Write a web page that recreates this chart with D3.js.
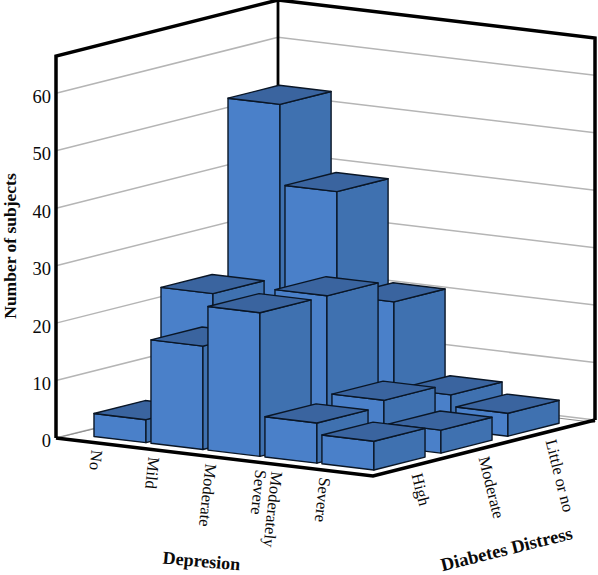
<!DOCTYPE html>
<html>
<head>
<meta charset="utf-8">
<script src="https://cdn.jsdelivr.net/npm/d3@7"></script>
<style>
  html, body { margin: 0; background: #fff; }
  text { font-family: "Liberation Serif", serif; fill: #0a0a0a; }
</style>
</head>
<body>
<div id="chart"></div>
<script>
const depression = ['No', 'Mild', 'Moderate', 'Moderately Severe', 'Severe'];
const distress = ['High', 'Moderate', 'Little or no'];
const yTicks = [0, 10, 20, 30, 40, 50, 60];

// number of subjects per depression level, one list per distress level
const highCounts = [4, 18, 25, 7, 5];
const moderateCounts = [23, 15, 25, 8, 4];
const littleCounts = [53, 39, 21, 6, 4];
const countsByDistress = [highCounts, moderateCounts, littleCounts];

const width = 598;
const height = 575;

// the floor is a parallelogram, verticals keep one scale (orthographic view)
const origin = [56, 438];
const xVec = [317, 38];
const zVec = [222, -56];

const xScale = d3.scaleBand().domain(depression).range([0.068, 0.951]).paddingInner(0.088);
const zScale = d3.scaleBand().domain(distress).range([0.074, 0.908]).paddingInner(0.237);
const yScale = d3.scaleLinear().domain([0, 66.5]).range([438, 56]);

function project(a, b, value) {
  return [
    origin[0] + a * xVec[0] + b * zVec[0],
    origin[1] + a * xVec[1] + b * zVec[1] - (yScale(0) - yScale(value))
  ];
}

const svg = d3.select('#chart').append('svg')
  .attr('width', width)
  .attr('height', height)
  .style('display', 'block');

const path = pts => 'M' + pts.map(p => p.join(',')).join('L') + 'Z';
const line = pts => 'M' + pts.map(p => p.join(',')).join('L');

// gridlines on the two back walls
svg.append('g').selectAll('path')
  .data(yTicks)
  .join('path')
  .attr('d', v => line([project(0, 0, v), project(0, 1, v), project(1, 1, v)]))
  .attr('fill', 'none')
  .attr('stroke', '#b5b5b5')
  .attr('stroke-width', 1.5);

// second floor edge just below the wall foot
svg.append('path')
  .attr('d', line([project(0, 0, 0), project(0, 1, 0).map((c, i) => c + (i ? 2.5 : 0)), project(1, 1, 0).map((c, i) => c + (i ? 2.5 : 0))]))
  .attr('fill', 'none')
  .attr('stroke', '#8c8c8c')
  .attr('stroke-width', 1);

// wall frame
svg.append('path')
  .attr('d', line([project(0, 0, 0), project(0, 0, 66.5), project(0, 1, 66.5), project(1, 1, 66.5), project(1, 1, 0)]))
  .attr('fill', 'none')
  .attr('stroke', '#000')
  .attr('stroke-width', 3.5)
  .attr('stroke-linejoin', 'miter');

svg.append('path')
  .attr('d', line([project(0, 1, 66.5), project(0, 1, 40)]))
  .attr('stroke', '#000')
  .attr('stroke-width', 2.8);

// front floor edge
svg.append('path')
  .attr('d', line([project(0, 0, 0), project(1, 0, 0), project(1, 1, 0)]))
  .attr('fill', 'none')
  .attr('stroke', '#000')
  .attr('stroke-width', 3.6);

// bars, far row first so nearer ones paint over
const barData = [];
distress.slice().reverse().forEach(dis => {
  const row = countsByDistress[distress.indexOf(dis)];
  depression.forEach((dep, i) => barData.push({ dep, dis, value: row[i] }));
});

const bars = svg.append('g').selectAll('g')
  .data(barData)
  .join('g')
  .attr('stroke', '#0a1626')
  .attr('stroke-width', 1.4)
  .attr('stroke-linejoin', 'round');

const x0 = d => xScale(d.dep);
const x1 = d => xScale(d.dep) + xScale.bandwidth();
const z0 = d => zScale(d.dis);
const z1 = d => zScale(d.dis) + zScale.bandwidth();

bars.append('path')
  .attr('fill', '#4a80c9')
  .attr('d', d => path([project(x0(d), z0(d), 0), project(x1(d), z0(d), 0), project(x1(d), z0(d), d.value), project(x0(d), z0(d), d.value)]));

bars.append('path')
  .attr('fill', '#3f71b0')
  .attr('d', d => path([project(x1(d), z0(d), 0), project(x1(d), z1(d), 0), project(x1(d), z1(d), d.value), project(x1(d), z0(d), d.value)]));

bars.append('path')
  .attr('fill', '#3a649f')
  .attr('d', d => path([project(x0(d), z0(d), d.value), project(x1(d), z0(d), d.value), project(x1(d), z1(d), d.value), project(x0(d), z1(d), d.value)]));

// value axis, labels sit a little under their gridline
const yAxis = d3.axisLeft(yScale).tickValues(yTicks).tickSize(0).tickPadding(5);
svg.append('g')
  .attr('transform', 'translate(' + origin[0] + ',3)')
  .call(yAxis)
  .call(g => g.select('.domain').remove())
  .selectAll('text')
  .style('font-family', '"Liberation Serif", serif')
  .style('font-size', '18.5px')
  .attr('fill', '#0a0a0a');

// depression labels
svg.append('g').selectAll('text')
  .data(depression)
  .join('text')
  .attr('font-size', 16.5)
  .attr('transform', d => {
    const p = project(xScale(d), 0, 0);
    return 'translate(' + (p[0] + 14) + ',' + (p[1] + 9) + ') rotate(96)';
  })
  .each(function (d) {
    const words = d.split(' ');
    const t = d3.select(this);
    words.forEach((w, i) => {
      t.append('tspan')
        .attr('x', 0)
        .attr('y', words.length > 1 ? (i === 0 ? -9 : 7) : 0)
        .text(w);
    });
  });

// distress labels
svg.append('g').selectAll('text')
  .data(distress)
  .join('text')
  .attr('font-size', 16.5)
  .attr('transform', d => {
    const p = project(1, zScale(d), 0);
    return 'translate(' + (p[0] + 22) + ',' + (p[1] + 3) + ') rotate(76)';
  })
  .text(d => d);

// axis titles
svg.append('text')
  .attr('transform', 'translate(16,246) rotate(-90)')
  .attr('text-anchor', 'middle')
  .attr('font-weight', 'bold')
  .attr('font-size', 17.5)
  .text('Number of subjects');

svg.append('text')
  .attr('transform', 'translate(201,567) rotate(5)')
  .attr('text-anchor', 'middle')
  .attr('font-weight', 'bold')
  .attr('font-size', 18)
  .text('Depresion');

svg.append('text')
  .attr('transform', 'translate(508,555) rotate(-14)')
  .attr('text-anchor', 'middle')
  .attr('font-weight', 'bold')
  .attr('font-size', 18.5)
  .text('Diabetes Distress');
</script>
</body>
</html>
